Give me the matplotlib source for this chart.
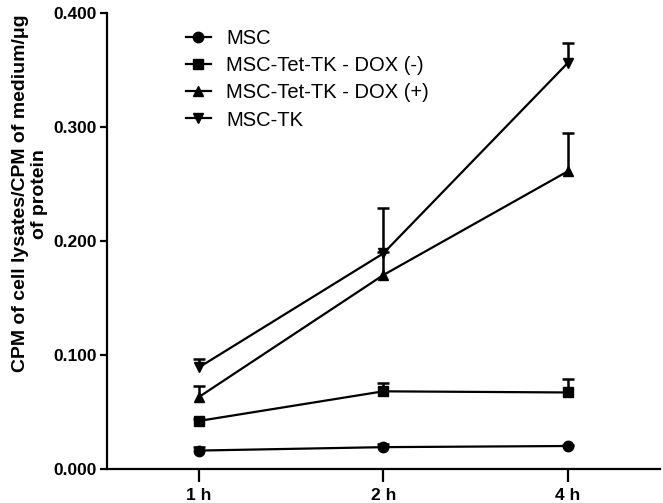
import matplotlib.pyplot as plt
import numpy as np

plt.rcParams['font.family'] = ['Liberation Sans', 'DejaVu Sans']

times = ["1 h", "2 h", "4 h"]
series_names = ["MSC", "MSC-Tet-TK - DOX (-)", "MSC-Tet-TK - DOX (+)", "MSC-TK"]
msc = [0.016, 0.019, 0.020]
msc_err = [0.003, 0.003, 0.001]
dox_neg = [0.042, 0.068, 0.067]
dox_neg_err = [0.002, 0.007, 0.012]
dox_pos = [0.063, 0.170, 0.261]
dox_pos_err = [0.010, 0.020, 0.034]
msc_tk = [0.089, 0.189, 0.356]
msc_tk_err = [0.007, 0.040, 0.018]

values = [msc, dox_neg, dox_pos, msc_tk]
errors = [msc_err, dox_neg_err, dox_pos_err, msc_tk_err]
markers = ["o", "s", "^", "v"]

fig = plt.figure(figsize=(6.63, 5.03), dpi=100)
ax = fig.add_axes([0.161, 0.068, 0.834, 0.906])

x = np.arange(len(times))
for name, vals, err, m in zip(series_names, values, errors, markers):
    vals = np.array(vals)
    err = np.array(err)
    # upper error bars only
    ax.vlines(x, vals, vals + err, color="black", linewidth=1.8)
    ax.plot(x, vals + err, linestyle="none", marker="_", markersize=9,
            markeredgewidth=1.8, color="black")
    ax.plot(x, vals, color="black", marker=m, markersize=7.5,
            linewidth=1.6, label=name)

ax.set_xlim(-0.5, 2.5)
ax.set_ylim(0, 0.4)
ax.set_xticks(x)
ax.set_xticklabels(times, fontweight="bold", fontsize=12.5)
ax.set_yticks([0, 0.1, 0.2, 0.3, 0.4])
ax.set_yticklabels(["0.000", "0.100", "0.200", "0.300", "0.400"],
                   fontweight="bold", fontsize=12.5)
ax.tick_params(axis="x", length=9, width=1.6, direction="out", pad=5)
ax.tick_params(axis="y", length=5, width=1.6, direction="out", pad=2)
for s in ["top", "right"]:
    ax.spines[s].set_visible(False)
for s in ["left", "bottom"]:
    ax.spines[s].set_linewidth(1.6)

fig.text(0.045, 0.615, "CPM of cell lysates/CPM of medium/\u03bcg\nof protein",
         rotation=90, ha="center", va="center", multialignment="center",
         fontweight="bold", fontsize=14)

ax.legend(loc="upper left", bbox_to_anchor=(0.11, 1.004),
          frameon=False, fontsize=14.5, handlelength=1.25, handletextpad=0.75,
          labelspacing=0.4)

fig.savefig("out.png", dpi=100)
